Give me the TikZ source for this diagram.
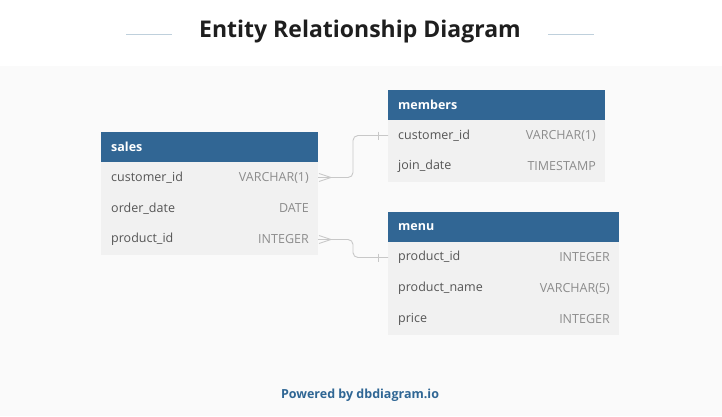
\documentclass[tikz,border=0pt]{standalone}
\usepackage{fontspec}
\setmainfont{Open Sans}
\usetikzlibrary{calc}
\definecolor{hdr}{HTML}{316694}
\definecolor{rowbg}{HTML}{F1F1F1}
\definecolor{pagebg}{HTML}{FAFAFA}
\definecolor{fname}{HTML}{555555}
\definecolor{ftype}{HTML}{8C8C8C}
\definecolor{conn}{HTML}{C8C8C8}
\definecolor{tline}{HTML}{BFD0DC}
\definecolor{ttl}{HTML}{1E1E1E}
\definecolor{pow}{HTML}{2F6694}
\tikzset{
  hdrbox/.style={fill=hdr, draw=none, minimum height=30pt, inner sep=0pt, outer sep=0pt},
  rowbox/.style={fill=rowbg, draw=none, minimum height=31pt, inner sep=0pt, outer sep=0pt},
  hdrtext/.style={anchor=west, text=white, inner sep=0pt, font=\fontsize{12.5}{15}\selectfont\bfseries},
  fieldtext/.style={anchor=west, text=fname, inner sep=0pt, font=\fontsize{12.5}{15}\selectfont},
  typetext/.style={anchor=east, text=ftype, inner sep=0pt, font=\fontsize{12.5}{15}\selectfont},
  connline/.style={draw=conn, line width=0.9pt, rounded corners=5pt},
  crow/.style={draw=conn, line width=0.9pt},
}
\begin{document}
\begin{tikzpicture}[x=1pt,y=-1pt]
\useasboundingbox (0,0) rectangle (722,416);
\fill[white] (0,0) rectangle (722,66);
\fill[pagebg] (0,66) rectangle (722,416);
% title
\node[text=ttl, inner sep=0pt, font=\fontsize{23}{27}\selectfont\bfseries] (title) at (360,32) {Entity Relationship Diagram};
\draw[tline, line width=0.8pt] (126,34) -- (172,34);
\draw[tline, line width=0.8pt] (548,34) -- (594,34);
% sales
\node[hdrbox, minimum width=217pt, anchor=north west] (sales) at (101,132) {};
\node[hdrtext] (sales-t) at ($(sales.west)+(10,0)$) {sales};
\node[rowbox, minimum width=217pt, anchor=north west] (s-cust) at (101,162) {};
\node[rowbox, minimum width=217pt, anchor=north west] (s-date) at (101,193) {};
\node[rowbox, minimum width=217pt, anchor=north west] (s-prod) at (101,224) {};
\node[fieldtext] (s-cust-n) at ($(s-cust.west)+(10,0)$) {customer\_id};
\node[typetext] (s-cust-t) at ($(s-cust.east)+(-9,0)$) {VARCHAR(1)};
\node[fieldtext] (s-date-n) at ($(s-date.west)+(10,0)$) {order\_date};
\node[typetext] (s-date-t) at ($(s-date.east)+(-9,0)$) {DATE};
\node[fieldtext] (s-prod-n) at ($(s-prod.west)+(10,0)$) {product\_id};
\node[typetext] (s-prod-t) at ($(s-prod.east)+(-9,0)$) {INTEGER};
% members
\node[hdrbox, minimum width=217pt, anchor=north west] (members) at (388,90) {};
\node[hdrtext] (members-t) at ($(members.west)+(10,0)$) {members};
\node[rowbox, minimum width=217pt, anchor=north west] (m-cust) at (388,120) {};
\node[rowbox, minimum width=217pt, anchor=north west] (m-join) at (388,151) {};
\node[fieldtext] (m-cust-n) at ($(m-cust.west)+(10,0)$) {customer\_id};
\node[typetext] (m-cust-t) at ($(m-cust.east)+(-9,0)$) {VARCHAR(1)};
\node[fieldtext] (m-join-n) at ($(m-join.west)+(10,0)$) {join\_date};
\node[typetext] (m-join-t) at ($(m-join.east)+(-9,0)$) {TIMESTAMP};
% menu
\node[hdrbox, minimum width=231pt, anchor=north west] (menu) at (388,212) {};
\node[hdrtext] (menu-t) at ($(menu.west)+(10,0)$) {menu};
\node[rowbox, minimum width=231pt, anchor=north west] (u-prod) at (388,242) {};
\node[rowbox, minimum width=231pt, anchor=north west] (u-name) at (388,273) {};
\node[rowbox, minimum width=231pt, anchor=north west] (u-price) at (388,304) {};
\node[fieldtext] (u-prod-n) at ($(u-prod.west)+(10,0)$) {product\_id};
\node[typetext] (u-prod-t) at ($(u-prod.east)+(-9,0)$) {INTEGER};
\node[fieldtext] (u-name-n) at ($(u-name.west)+(10,0)$) {product\_name};
\node[typetext] (u-name-t) at ($(u-name.east)+(-9,0)$) {VARCHAR(5)};
\node[fieldtext] (u-price-n) at ($(u-price.west)+(10,0)$) {price};
\node[typetext] (u-price-t) at ($(u-price.east)+(-9,0)$) {INTEGER};
% connectors
\coordinate (mid1) at ($(s-cust.east)!0.5!(m-cust.west)$);
\draw[connline] (s-cust.east) -| (mid1) |- (m-cust.west);
\draw[crow] ($(s-cust.east)+(1,-4)$) -- ($(s-cust.east)+(13,0)$) -- ($(s-cust.east)+(1,4)$);
\draw[crow] ($(m-cust.west)+(-10,-4)$) -- ($(m-cust.west)+(-10,4)$);
\coordinate (mid2) at ($(s-prod.east)!0.5!(u-prod.west)$);
\draw[connline] (s-prod.east) -| (mid2) |- (u-prod.west);
\draw[crow] ($(s-prod.east)+(1,-4)$) -- ($(s-prod.east)+(13,0)$) -- ($(s-prod.east)+(1,4)$);
\draw[crow] ($(u-prod.west)+(-10,-4)$) -- ($(u-prod.west)+(-10,4)$);
% footer
\node[text=pow, inner sep=0pt, font=\fontsize{12.5}{15}\selectfont\bfseries] (footer) at (360,395) {Powered by dbdiagram.io};
\end{tikzpicture}
\end{document}
